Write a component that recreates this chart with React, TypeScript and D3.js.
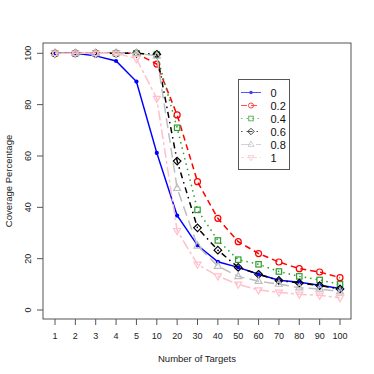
import React from "react";
import * as d3 from "d3";

// categories on the x axis (plotted evenly spaced)
const targets = ["1", "2", "3", "4", "5", "10", "20", "30", "40", "50", "60", "70", "80", "90", "100"];

// coverage per series
const cov0 = [100, 100, 99, 97, 89, 61.2, 36.8, 25.2, 18.8, 16.6, 13.9, 11.6, 10.8, 9.6, 8.4];
const cov02 = [100, 100, 100, 100, 100, 95.8, 76, 50, 35.7, 26.6, 22, 18.7, 16.1, 14.8, 12.6];
const cov04 = [100, 100, 100, 100, 100, 99.5, 71, 39, 27.1, 19.6, 17.8, 15, 13.1, 11.7, 10];
const cov06 = [100, 100, 100, 100, 100, 99.6, 58, 32, 23.3, 16.6, 13.9, 11.5, 10.5, 9.5, 8.2];
const cov08 = [100, 100, 100, 100, 100, 99, 47.4, 25, 17.1, 13.1, 11.2, 10.1, 8.7, 8.2, 7.1];
const cov1 = [100, 100, 100, 100, 97.9, 82.4, 30.9, 17.8, 13.2, 10, 7.8, 6.9, 6.1, 5.7, 4.8];

const seriesNames = ["0", "0.2", "0.4", "0.6", "0.8", "1"];
const seriesValues = [cov0, cov02, cov04, cov06, cov08, cov1];
const colors = ["#0000ff", "#ff0000", "#2e9e2e", "#000000", "#bebebe", "#ffc0cb"];
const dashes = ["", "6,4", "1.5,4", "1.5,4,6,4", "10,5", "3,3,10,3"];
const shapes = ["dot", "circle", "square", "diamond", "triUp", "triDown"];
const yTicks = [0, 20, 40, 60, 80, 100];

const W = 374, H = 374;
const box = { left: 43, right: 351, top: 43, bottom: 319 };

function marker(shape: string, x: number, y: number, color: string, key: string, k = 1, sw = 1.2) {
  if (shape === "dot") return <circle key={key} cx={x} cy={y} r={2.1 * k} fill={color} />;
  if (shape === "circle")
    return <circle key={key} cx={x} cy={y} r={3 * k} fill="none" stroke={color} strokeWidth={sw} />;
  if (shape === "square")
    return <rect key={key} x={x - 2.7 * k} y={y - 2.7 * k} width={5.4 * k} height={5.4 * k}
      fill="none" stroke={color} strokeWidth={sw} />;
  let pts: number[][] = [];
  if (shape === "diamond") pts = [[0, -3.8], [3.8, 0], [0, 3.8], [-3.8, 0]];
  if (shape === "triUp") pts = [[0, -4], [3.5, 2.2], [-3.5, 2.2]];
  if (shape === "triDown") pts = [[0, 4], [3.5, -2.2], [-3.5, -2.2]];
  return (
    <polygon key={key} points={pts.map((p) => `${x + p[0] * k},${y + p[1] * k}`).join(" ")}
      fill="none" stroke={color} strokeWidth={sw} />
  );
}

export default function App() {
  const x = d3.scalePoint<string>().domain(targets).range([55, 340]);
  const y = d3.scaleLinear().domain([0, 100]).range([310, 53.3]);

  const line = d3.line<number>()
    .x((_, i) => x(targets[i]) as number)
    .y((d) => y(d));

  const font = "'Liberation Sans', Arial, sans-serif";
  const legX = 238.5, legY = 79.5, legRow = 13;

  return (
    <svg width={W} height={H} style={{ position: "absolute", left: 0, top: 0, background: "#fff" }}
      fontFamily={font}>
      <rect x={0} y={0} width={W} height={H} fill="#fff" />

      {seriesValues.map((vals, s) => (
        <g key={s}>
          <path d={line(vals) || ""} fill="none" stroke={colors[s]} strokeWidth={1.5}
            strokeDasharray={dashes[s]} />
          {vals.map((v, i) => marker(shapes[s], x(targets[i]) as number, y(v), colors[s], `m${s}-${i}`))}
        </g>
      ))}

      <rect x={box.left} y={box.top} width={box.right - box.left} height={box.bottom - box.top}
        fill="none" stroke="#555" strokeWidth={1} />

      {/* x axis */}
      {targets.map((t) => (
        <g key={t} transform={`translate(${x(t)},0)`}>
          <line y1={box.bottom} y2={box.bottom + 6} stroke="#555" />
          <text y={339} textAnchor="middle" fontSize={9} fill="#222">{t}</text>
        </g>
      ))}
      <text x={197} y={362} textAnchor="middle" fontSize={9.5} fill="#222">Number of Targets</text>

      {/* y axis */}
      {yTicks.map((t) => (
        <g key={t} transform={`translate(0,${y(t)})`}>
          <line x1={box.left} x2={box.left - 6} stroke="#555" />
          <text transform="translate(31,0) rotate(-90)" textAnchor="middle" fontSize={9} fill="#222">{t}</text>
        </g>
      ))}
      <text transform={`translate(12,${(box.top + box.bottom) / 2}) rotate(-90)`} textAnchor="middle"
        fontSize={9.5} fill="#222">Coverage Percentage</text>

      {/* legend */}
      <rect x={legX} y={legY} width={51} height={90} fill="#fff" stroke="#555" />
      {seriesNames.map((n, s) => {
        const ry = legY + 13 + s * legRow;
        return (
          <g key={n} opacity={0.75}>
            <line x1={241} x2={261} y1={ry} y2={ry} stroke={colors[s]} strokeWidth={0.9}
              strokeDasharray={dashes[s]} />
            {marker(shapes[s], 251, ry, colors[s], `l${s}`, 0.85, 1)}
          </g>
        );
      })}
      {seriesNames.map((n, s) => (
        <text key={n} x={270.5} y={legY + 17 + s * legRow} fontSize={11} fill="#111">{n}</text>
      ))}
    </svg>
  );
}
